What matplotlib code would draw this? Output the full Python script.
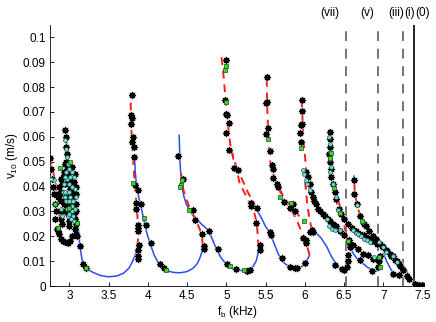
import numpy as np
import matplotlib
matplotlib.use("Agg")
import matplotlib.pyplot as plt

plt.rcParams['font.family'] = ['Liberation Sans', 'DejaVu Sans']

# curvas continuas (f [kHz], v [m/s])
azul_1 = [(3.11, 0.0245), (3.125, 0.020), (3.135, 0.016), (3.16, 0.011), (3.18, 0.0088), (3.22, 0.0070),
          (3.30, 0.0055), (3.40, 0.0042), (3.50, 0.0037), (3.60, 0.0040), (3.69, 0.0051), (3.76, 0.0072),
          (3.80, 0.0095), (3.84, 0.0125), (3.865, 0.016)]
azul_2 = [(3.83, 0.0526), (3.84, 0.046), (3.86, 0.039), (3.89, 0.035), (3.92, 0.031), (3.96, 0.025),
          (3.99, 0.021), (4.03, 0.017), (4.08, 0.0125), (4.13, 0.0095), (4.18, 0.0075), (4.24, 0.0062),
          (4.32, 0.0055), (4.41, 0.0053), (4.50, 0.0058), (4.575, 0.0071), (4.63, 0.0090), (4.67, 0.0118),
          (4.69, 0.0140), (4.70, 0.0165)]
azul_3 = [(4.40, 0.0606), (4.405, 0.055), (4.41, 0.050), (4.42, 0.045), (4.43, 0.041), (4.46, 0.036),
          (4.49, 0.033), (4.54, 0.030), (4.60, 0.0278), (4.68, 0.025), (4.77, 0.0225), (4.82, 0.019),
          (4.87, 0.0151), (4.93, 0.0115), (5.0, 0.0087), (5.06, 0.0072), (5.125, 0.0064), (5.21, 0.0062),
          (5.29, 0.0064), (5.34, 0.0078), (5.38, 0.0100), (5.40, 0.0125), (5.41, 0.0158)]
azul_4 = [(5.34, 0.0339), (5.40, 0.030), (5.45, 0.0272), (5.50, 0.024), (5.56, 0.0212), (5.61, 0.017),
          (5.66, 0.0131), (5.71, 0.010), (5.77, 0.0084), (5.83, 0.0074), (5.90, 0.0071), (5.96, 0.0078),
          (6.00, 0.0091), (6.04, 0.011), (6.06, 0.0125)]
azul_5 = [(6.09, 0.0225), (6.15, 0.0212), (6.21, 0.0192), (6.28, 0.0158), (6.34, 0.0118), (6.41, 0.0084),
          (6.45, 0.0070), (6.49, 0.0064), (6.53, 0.0068), (6.55, 0.0078), (6.57, 0.0105)]
azul_6 = [(6.57, 0.0158), (6.62, 0.0130), (6.67, 0.0108), (6.74, 0.0091), (6.80, 0.0075), (6.87, 0.0064),
          (6.92, 0.0060), (6.95, 0.0068), (6.96, 0.0090)]
azul_7 = [(7.0, 0.0131), (7.05, 0.0095), (7.10, 0.0065), (7.13, 0.0051), (7.19, 0.0040), (7.23, 0.0058)]
azul_8 = [(7.27, 0.0078), (7.31, 0.0052), (7.35, 0.0025), (7.38, 0.0011), (7.44, 0.0005), (7.51, 0.0005)]
azul_9 = [(6.625, 0.0442), (6.63, 0.0415)]

rojo_a = [(2.754, 0.052), (2.79, 0.046), (2.82, 0.0426), (2.845, 0.037), (2.86, 0.0346), (2.875, 0.028),
          (2.88, 0.0239)]
rojo_b = [(3.11, 0.0245), (3.09, 0.030), (3.06, 0.038), (3.02, 0.046), (2.99, 0.053), (2.96, 0.058),
          (2.945, 0.063)]
rojo_c = [(3.865, 0.016), (3.88, 0.020), (3.87, 0.027), (3.85, 0.035), (3.83, 0.043), (3.81, 0.052),
          (3.795, 0.060), (3.785, 0.068), (3.78, 0.077)]
rojo_d = [(4.70, 0.0165), (4.69, 0.020), (4.66, 0.023), (4.62, 0.026), (4.55, 0.030), (4.49, 0.035),
          (4.45, 0.039), (4.43, 0.043), (4.42, 0.047)]
rojo_e1 = [(4.94, 0.092), (4.97, 0.083), (4.99, 0.075), (5.02, 0.065), (5.05, 0.057), (5.09, 0.051),
           (5.14, 0.047), (5.20, 0.043), (5.27, 0.038), (5.34, 0.0339)]
rojo_e2 = [(5.06, 0.055), (5.11, 0.050), (5.17, 0.0414), (5.24, 0.037), (5.30, 0.033), (5.36, 0.029),
           (5.39, 0.025), (5.41, 0.0158)]
rojo_f = [(6.06, 0.0125), (6.03, 0.016), (5.99, 0.020), (5.95, 0.0225), (5.89, 0.027), (5.82, 0.031),
          (5.76, 0.0335), (5.70, 0.037), (5.64, 0.041), (5.59, 0.046), (5.56, 0.050), (5.54, 0.058),
          (5.53, 0.065), (5.52, 0.073), (5.515, 0.084)]
rojo_f2 = [(5.60, 0.044), (5.66, 0.040), (5.73, 0.036), (5.80, 0.033), (5.875, 0.0306), (5.93, 0.028)]
rojo_g = [(5.96, 0.075), (5.97, 0.068), (5.98, 0.060), (6.0, 0.053), (6.02, 0.046), (6.05, 0.040),
          (6.09, 0.036), (6.15, 0.032), (6.22, 0.029), (6.28, 0.0265), (6.36, 0.024), (6.45, 0.022),
          (6.57, 0.0185), (6.66, 0.016), (6.745, 0.0131), (6.85, 0.0115), (6.95, 0.0104)]
rojo_g2 = [(6.09, 0.0225), (6.06, 0.027), (6.03, 0.033), (6.01, 0.040), (5.99, 0.047)]
rojo_h = [(6.32, 0.063), (6.32, 0.055), (6.33, 0.048), (6.36, 0.040), (6.42, 0.032), (6.49, 0.0265),
          (6.58, 0.024), (6.70, 0.0212), (6.81, 0.019), (6.92, 0.0172), (7.02, 0.0145), (7.13, 0.0118),
          (7.21, 0.0078)]
rojo_h2 = [(6.57, 0.0105), (6.56, 0.015), (6.53, 0.020), (6.50, 0.025), (6.45, 0.032), (6.40, 0.037),
           (6.36, 0.042)]
rojo_i = [(6.63, 0.0415), (6.64, 0.037), (6.67, 0.032), (6.70, 0.029), (6.745, 0.026), (6.80, 0.023),
          (6.87, 0.0195), (6.95, 0.017), (7.0, 0.0158), (7.07, 0.013), (7.13, 0.0105), (7.20, 0.0085),
          (7.255, 0.0064), (7.28, 0.004)]

# mediciones
asteriscos = [
    (2.755, 0.0516), (2.765, 0.047), (2.78, 0.043), (2.795, 0.040), (2.81, 0.037), (2.82, 0.033),
    (2.83, 0.030), (2.82, 0.027), (2.84, 0.023), (2.855, 0.022), (2.87, 0.021), (2.89, 0.019),
    (2.92, 0.018), (2.95, 0.0175), (2.98, 0.0172), (3.01, 0.018), (3.03, 0.020), (3.07, 0.023),
    (3.08, 0.025), (3.09, 0.021), (3.10, 0.020), (3.13, 0.016), (3.175, 0.0088), (3.21, 0.0072),
    (2.94, 0.0628), (2.955, 0.060), (2.96, 0.056), (2.965, 0.053), (2.96, 0.050), (2.97, 0.047),
    (2.98, 0.045), (2.99, 0.043), (3.0, 0.041), (3.01, 0.039), (3.02, 0.037), (3.03, 0.035),
    (3.04, 0.033), (3.05, 0.031), (3.06, 0.029), (3.07, 0.027), (2.93, 0.046), (2.92, 0.044),
    (2.91, 0.041), (2.90, 0.038), (2.88, 0.037), (2.86, 0.036), (2.85, 0.037), (2.87, 0.040),
    (2.89, 0.043), (2.94, 0.049), (2.95, 0.041), (2.96, 0.036), (2.97, 0.032), (2.98, 0.029),
    (2.99, 0.026), (3.0, 0.024), (2.93, 0.033), (2.94, 0.030), (3.02, 0.030), (3.04, 0.028),
    (3.08, 0.040), (3.09, 0.037), (3.085, 0.033), (3.09, 0.030), (3.06, 0.042), (3.05, 0.038),
    (2.89, 0.030), (2.90, 0.027), (2.91, 0.025), (2.90, 0.034), (3.07, 0.045), (3.03, 0.048),
    (3.80, 0.0768), (3.79, 0.0688), (3.80, 0.0675), (3.79, 0.065), (3.815, 0.0598), (3.80, 0.058),
    (3.82, 0.056), (3.82, 0.052), (3.84, 0.0406), (3.87, 0.0386), (3.85, 0.0333), (3.85, 0.031),
    (3.91, 0.0329), (3.88, 0.0245), (3.88, 0.0232), (3.88, 0.022), (3.98, 0.0245), (4.04, 0.0172),
    (3.89, 0.0165), (3.88, 0.0145), (3.88, 0.012), (3.87, 0.011), (4.15, 0.0088), (4.20, 0.0071),
    (4.39, 0.0523), (4.445, 0.0429), (4.57, 0.0306), (4.60, 0.0265), (4.69, 0.0208), (4.71, 0.0162),
    (4.71, 0.0150), (4.78, 0.0223), (4.89, 0.0149), (5.01, 0.0087), (5.12, 0.0067),
    (4.98, 0.0748), (5.01, 0.0688), (5.03, 0.0654), (5.0, 0.0614), (5.04, 0.0547), (5.10, 0.0473),
    (5.15, 0.0467), (4.99, 0.091), (5.0, 0.069),
    (5.52, 0.0842), (5.515, 0.0741), (5.51, 0.0735), (5.535, 0.0634), (5.51, 0.0611), (5.56, 0.0544),
    (5.58, 0.0487), (5.60, 0.0433), (5.64, 0.041), (5.66, 0.040), (5.59, 0.047), (5.73, 0.0339),
    (5.81, 0.0313), (5.875, 0.030), (5.85, 0.033), (5.39, 0.0313), (5.38, 0.0252), (5.43, 0.0165),
    (5.43, 0.0145), (5.32, 0.0333), (5.31, 0.032), (5.56, 0.0218), (5.565, 0.0205), (5.71, 0.0111),
    (5.81, 0.0078), (5.875, 0.0072), (5.90, 0.0073), (6.00, 0.0091), (5.98, 0.0192), (6.02, 0.0185),
    (6.02, 0.0172), (6.07, 0.0218), (6.11, 0.0218), (5.26, 0.0062), (5.30, 0.0063),
    (5.97, 0.0748), (5.97, 0.0705), (5.95, 0.0648), (5.97, 0.065), (5.94, 0.0614), (5.95, 0.058),
    (6.02, 0.046), (6.04, 0.044), (6.06, 0.041), (6.08, 0.038), (6.10, 0.036), (6.12, 0.034),
    (6.14, 0.033), (6.17, 0.031), (6.20, 0.030), (6.23, 0.029), (6.26, 0.028), (6.29, 0.027),
    (6.32, 0.026), (6.36, 0.025), (6.40, 0.024), (6.45, 0.022), (6.50, 0.0205), (6.56, 0.0185),
    (6.62, 0.0165), (6.68, 0.015), (6.745, 0.013), (6.80, 0.0125), (6.87, 0.011), (6.93, 0.0105),
    (6.32, 0.062), (6.315, 0.059), (6.32, 0.056), (6.31, 0.053), (6.32, 0.050), (6.33, 0.047),
    (6.34, 0.044), (6.36, 0.041), (6.38, 0.038), (6.40, 0.035), (6.43, 0.031), (6.46, 0.029),
    (6.50, 0.027), (6.55, 0.025), (6.60, 0.0235), (6.65, 0.022), (6.70, 0.021), (6.75, 0.0205),
    (6.80, 0.0195), (6.86, 0.018), (6.92, 0.017), (6.98, 0.016), (7.04, 0.0145), (7.09, 0.013),
    (7.13, 0.012), (7.18, 0.010), (7.21, 0.008),
    (6.63, 0.0425), (6.63, 0.037), (6.66, 0.033), (6.70, 0.028), (6.75, 0.025), (6.78, 0.024),
    (6.82, 0.022), (6.87, 0.020), (6.91, 0.019), (6.96, 0.017), (7.0, 0.0158), (7.05, 0.014),
    (7.10, 0.012), (7.15, 0.0105), (7.20, 0.009), (7.25, 0.0065), (7.30, 0.004), (7.40, 0.0008),
    (7.43, 0.0006), (7.46, 0.0005), (7.49, 0.0006),
    (6.09, 0.0225), (6.38, 0.0085), (6.47, 0.0068), (6.50, 0.0064), (6.54, 0.0075), (6.55, 0.010),
    (6.55, 0.0125), (6.57, 0.0155), (6.58, 0.017), (6.70, 0.0105), (6.85, 0.006), (6.93, 0.0075),
    (6.95, 0.010), (6.96, 0.012), (7.13, 0.005), (7.20, 0.0045), (7.25, 0.0065), (7.33, 0.003),
]

cian = [
    (2.945, 0.0587), (2.96, 0.055), (2.97, 0.052), (2.98, 0.049), (2.99, 0.047), (2.96, 0.046),
    (2.97, 0.043), (2.99, 0.041), (3.0, 0.038), (3.01, 0.036), (3.02, 0.034), (3.03, 0.032),
    (3.04, 0.030), (3.05, 0.028), (3.06, 0.026), (2.94, 0.044), (2.93, 0.041), (2.92, 0.038),
    (2.95, 0.038), (2.96, 0.034), (2.97, 0.031), (2.98, 0.028), (3.0, 0.029), (3.02, 0.027),
    (2.94, 0.036), (3.05, 0.034), (3.07, 0.031), (3.03, 0.040), (3.01, 0.044), (2.99, 0.034),
    (3.08, 0.036), (3.07, 0.039), (3.06, 0.044), (2.90, 0.031), (2.91, 0.028), (3.04, 0.046),
    (2.80, 0.0426), (2.77, 0.043),
    (5.98, 0.0466), (5.985, 0.045), (6.02, 0.0426), (6.03, 0.041), (6.07, 0.0386),
    (6.31, 0.060), (6.32, 0.057), (6.315, 0.054), (6.32, 0.051), (6.33, 0.048), (6.32, 0.046),
    (6.36, 0.041), (6.40, 0.036), (6.31, 0.024), (6.35, 0.023), (6.38, 0.0225), (6.45, 0.0225),
    (6.66, 0.0326), (6.62, 0.0225), (6.65, 0.0215), (6.68, 0.021), (6.72, 0.020), (6.76, 0.019),
    (6.79, 0.0185), (6.745, 0.0259), (6.83, 0.0178), (6.94, 0.0178), (7.0, 0.0158), (7.04, 0.0138),
    (7.12, 0.012), (6.42, 0.0305), (6.28, 0.027), (6.88, 0.0115), (7.18, 0.0098),
]

verde = [
    (2.88, 0.0473), (2.82, 0.0329), (2.86, 0.0232), (2.99, 0.0312), (3.01, 0.050), (3.10, 0.0252),
    (3.21, 0.0071), (3.815, 0.0413), (3.95, 0.0272), (4.23, 0.0064), (4.42, 0.0406), (4.41, 0.040),
    (4.43, 0.0426), (4.52, 0.0306), (5.05, 0.0082), (5.23, 0.0064), (5.0, 0.0885), (4.98, 0.0870),
    (5.0, 0.0741), (5.535, 0.059), (5.95, 0.0556), (5.68, 0.0359), (5.83, 0.0333), (5.99, 0.0261),
    (6.33, 0.0534), (6.37, 0.0393), (6.45, 0.0292), (6.555, 0.0182), (6.73, 0.026), (6.94, 0.0118),
    (6.96, 0.0075), (6.32, 0.0514),
]

lineas_f = [6.53, 6.93, 7.255]
linea_0 = 7.385
etiquetas = ['(vii)', '(v)', '(iii)', '(i)', '(0)']
etiquetas_f = [6.32, 6.79, 7.16, 7.335, 7.50]

fig = plt.figure(figsize=(4.36, 3.22), dpi=100)
ax = fig.add_axes([0.1147, 0.1118, 0.858, 0.8106])

for lf in lineas_f:
    ax.plot([lf, lf], [0, 0.105], color='0.45', lw=1.4, dashes=(5, 4), zorder=1)
ax.plot([linea_0, linea_0], [0, 0.105], color='k', lw=1.2, zorder=1)

for curva in [azul_1, azul_2, azul_3, azul_4, azul_5, azul_6, azul_7, azul_8, azul_9]:
    c = np.array(curva)
    ax.plot(c[:, 0], c[:, 1], color='#2a4cf7', lw=1.1, zorder=2)
for curva in [rojo_a, rojo_b, rojo_c, rojo_d, rojo_e1, rojo_e2, rojo_f, rojo_f2, rojo_g, rojo_g2,
              rojo_h, rojo_h2, rojo_i]:
    c = np.array(curva)
    ax.plot(c[:, 0], c[:, 1], color='#ff1a1a', lw=1.4, dashes=(4, 3), zorder=2)

a = np.array(asteriscos)
ax.plot(a[:, 0], a[:, 1], ls='none', marker='o', ms=6, mfc='0.75', mec='none', alpha=0.5, zorder=3)
ax.plot(a[:, 0], a[:, 1], ls='none', marker=(8, 2, 0), ms=4.5, mew=0.9, mec='k', zorder=4)
c = np.array(cian)
ax.plot(c[:, 0], c[:, 1], ls='none', marker='o', ms=2.8, mfc='#66e8d8', mec='#2a4a48', mew=0.5, zorder=5)
g = np.array(verde)
ax.plot(g[:, 0], g[:, 1], ls='none', marker='s', ms=3.0, mfc='#33dd22', mec='#224422', mew=0.5, zorder=5)

for et, ef in zip(etiquetas, etiquetas_f):
    ax.text(ef, 0.1098, et, ha='center', va='center', fontsize=8.5)

ax.set_xlim(2.754, 7.52)
ax.set_ylim(0, 0.105)
ax.set_xticks([3, 3.5, 4, 4.5, 5, 5.5, 6, 6.5, 7, 7.5])
ax.set_xticklabels(['3', '3.5', '4', '4.5', '5', '5.5', '6', '6.5', '7', '7.5'])
ax.set_yticks(np.arange(0, 0.101, 0.01))
ax.set_yticklabels(['0', '0.01', '0.02', '0.03', '0.04', '0.05', '0.06', '0.07', '0.08', '0.09', '0.1'])
ax.tick_params(direction='in', length=3, labelsize=8.5, width=0.6, pad=3)
ax.spines['top'].set_visible(False)
ax.spines['right'].set_visible(False)
ax.spines['left'].set_linewidth(0.6)
ax.spines['bottom'].set_linewidth(0.6)
ax.set_xlabel('f$_\\mathregular{b}$ (kHz)', fontsize=8.5, labelpad=1)
ax.set_ylabel('v$_\\mathregular{10}$ (m/s)', fontsize=8.5, labelpad=2)

fig.savefig('out.png', dpi=100)
